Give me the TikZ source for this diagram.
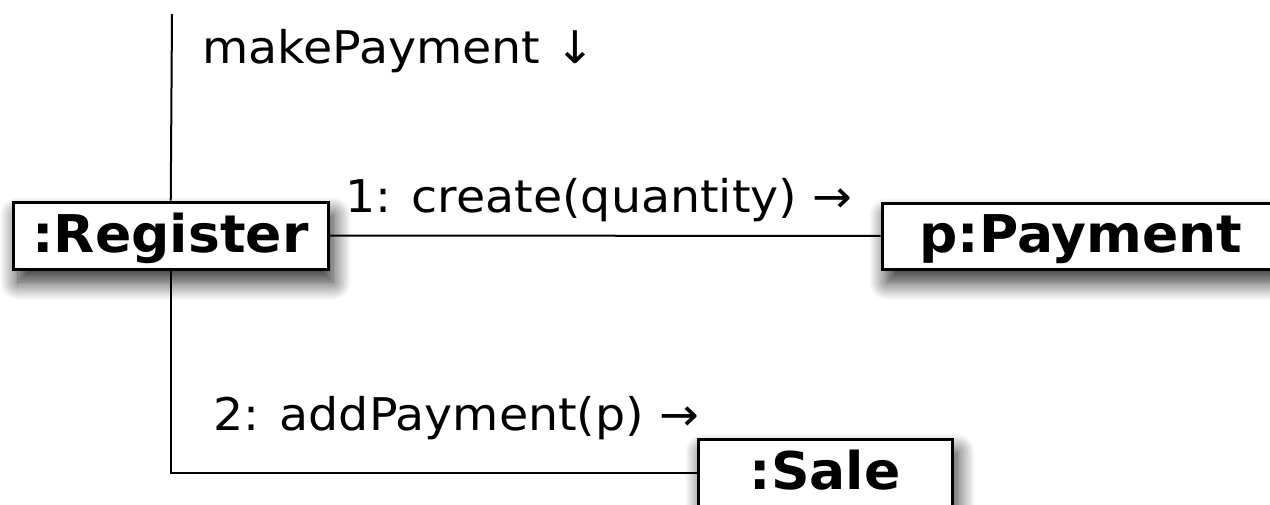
\documentclass[tikz,border=0pt]{standalone}
\usepackage{fontspec}
\setmainfont{DejaVu Sans}
\newfontfamily\msgfont{DejaVu Sans}[FakeStretch=1.055]
\newfontfamily\objfont{DejaVu Sans Bold}[FakeStretch=1.03]
\usetikzlibrary{shadows.blur}
\tikzset{
  objbox/.style = {draw=black, fill=white, line width=1.5pt, inner sep=0pt,
    align=center, font=\fontsize{26}{30}\selectfont\objfont,
    text height=22.5pt, text depth=6pt,
    blur shadow={shadow xshift=2.5pt, shadow yshift=-6.5pt, shadow blur radius=9pt,
      shadow opacity=85, shadow blur steps=14}},
  msg/.style = {anchor=base west, inner sep=0pt, font=\fontsize{22.5}{27}\selectfont\msgfont},
  link/.style = {line width=1pt, black},
}
\begin{document}
\begin{tikzpicture}[x=0.5pt,y=-0.5pt]
\useasboundingbox (0,0) rectangle (1270,504);
\clip (0,0) rectangle (1270,504);
\node [objbox, minimum width=157.5pt, minimum height=33.5pt] (reg) at (170.5,235.5) {:Register};
\node [objbox, minimum width=199pt, minimum height=33pt] (pay) at (1081,236) {p:Payment};
\node [objbox, minimum width=127pt, minimum height=34pt] (sale) at (825,473) {:Sale};
\coordinate (top) at (172,14);
\draw [link] (top) -- (reg);
\draw [link] (reg) -- (pay);
\draw [link] (reg.south) |- (sale.west);
% messages
\node [msg] (mp) at (202,63) {makePayment ↓};
\node [msg] (m1) at (345,212) {1: create(quantity) →};
\node [msg] (m2) at (213,430) {2: addPayment(p) →};
\end{tikzpicture}
\end{document}
